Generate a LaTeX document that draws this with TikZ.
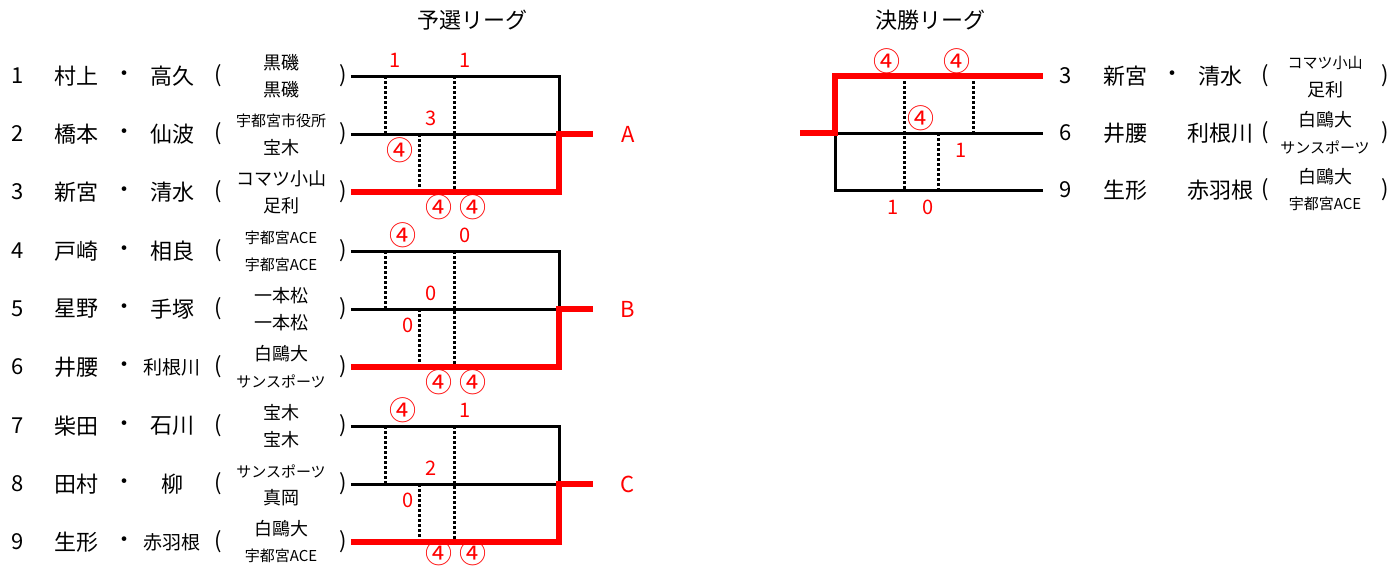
\documentclass[tikz,border=0pt]{standalone}
\usepackage{fontspec}
\setmainfont{Noto Sans CJK JP}
\usetikzlibrary{positioning}
\tikzset{sheet/.style={
  x=1pt,y=-1pt,line join=miter
},
  pname/.style={font=\fontsize{22}{22}\selectfont,inner sep=0pt},
  club/.style={font=\fontsize{18}{18}\selectfont,inner sep=0pt},
  paren/.style={pname,inner xsep=4pt},
  score/.style={red,font=\fontsize{20}{20}\selectfont,inner sep=0pt},
  lose/.style={line width=3pt},
  win/.style={red,line width=5.5pt},
  game/.style={line width=3pt,dash pattern=on 3pt off 2pt}
}
\newcommand\clubsm{\fontsize{15}{15}\selectfont}
\newcommand\namesm{\fontsize{19}{19}\selectfont}
\newcommand\four{{\fontsize{27}{27}\selectfont ④}}

\begin{document}
\begin{tikzpicture}[sheet]
  \useasboundingbox (0,0) rectangle (1393,566);
  \node[pname] (pre) at (472,20) {予選リーグ};
  \node[pname] (fin) at (930,20) {決勝リーグ};
  \foreach \n/\y/\fa/\fb/\ca/\cb in {
    1/76/村上/高久/黒磯/黒磯,
    2/134/橋本/仙波/\clubsm 宇都宮市役所/宝木,
    3/192/新宮/清水/コマツ小山/足利,
    4/251/戸崎/相良/\clubsm 宇都宮ACE/\clubsm 宇都宮ACE,
    5/309/星野/手塚/一本松/一本松,
    6/367/井腰/\namesm 利根川/白鷗大/\clubsm サンスポーツ,
    7/426/柴田/石川/宝木/宝木,
    8/484/田村/柳/\clubsm サンスポーツ/真岡,
    9/542/生形/\namesm 赤羽根/白鷗大/\clubsm 宇都宮ACE}{
    \node[pname] (no\n) at (18,\y) {\n};
    \node[pname] (fa\n) at (76,\y) {\fa};
    \node[pname] (dot\n) at (124,\y) {・};
    \node[pname] (fb\n) at (172,\y) {\fb};
    \node[paren] (op\n) at (218,\y) {(};
    \node[club] (ca\n) at (281,\y-13) {\ca};
    \node[club] (cb\n) at (281,\y+14) {\cb};
    \node[paren] (cl\n) at (343,\y) {)};
  }
  \foreach \g/\a/\b/\c/\ya/\yb/\yc/\sa/\sb/\sc/\sd/\se/\sf in {
    A/1/2/3/76/134/192/1/1/3/\four/\four/\four,
    B/4/5/6/251/309/367/\four/0/0/0/\four/\four,
    C/7/8/9/426/484/542/\four/1/2/0/\four/\four}{
    \coordinate (\g1) at (559,\ya);
    \coordinate (\g2) at (559,\yb);
    \coordinate (\g3) at (559,\yc);
    \coordinate (\g o) at (593,\yb);
    \draw[game] (385,\ya) -- (385,\yb);
    \draw[game] (419,\yb) -- (419,\yc);
    \draw[game] (454,\ya) -- (454,\yc);
    \draw[lose] (cl\a.east) -- (\g1) -- (\g2);
    \draw[lose] (cl\b.east) -- (\g2);
    \draw[win] (cl\c.east) -- (\g3) -- (\g2) -- (\g o);
    \node[pname,red] (grp\g) at (628,\yb) {\g};
    \node[score,anchor=west] (s\g a) at (389,\ya-16) {\sa};
    \node[score,anchor=west] (s\g b) at (459,\ya-16) {\sb};
    \node[score,anchor=west] (s\g c) at (425,\yb-16) {\sc};
    \node[score,anchor=east] (s\g d) at (414,\yb+16) {\sd};
    \node[score,anchor=west] (s\g e) at (425,{min(\yc+15,553)}) {\se};
    \node[score,anchor=west] (s\g f) at (459,{min(\yc+15,553)}) {\sf};
  }
  \foreach \n/\y/\fa/\dt/\fb/\ca/\cb in {
    3/76/新宮/・/清水/\clubsm コマツ小山/足利,
    6/133/井腰//利根川/白鷗大/\clubsm サンスポーツ,
    9/190/生形//赤羽根/白鷗大/\clubsm 宇都宮ACE}{
    \coordinate (e\n) at (1043,\y);
    \node[pname] (fno\n) at (1066,\y) {\n};
    \node[pname] (ffa\n) at (1125,\y) {\fa};
    \node[pname] (fdt\n) at (1172,\y) {\dt};
    \node[pname] (ffb\n) at (1220,\y) {\fb};
    \node[paren] (fop\n) at (1265,\y) {(};
    \node[club] (fca\n) at (1325,\y-13) {\ca};
    \node[club] (fcb\n) at (1325,\y+14) {\cb};
    \node[paren] (fcl\n) at (1385,\y) {)};
  }
  \coordinate (fr) at (800,133);
  \coordinate (fk) at (835,133);
  \coordinate (ft) at (835,76);
  \coordinate (fm) at (835,190);
  \draw[game] (904,76) -- (904,190);
  \draw[game] (973,76) -- (973,133);
  \draw[game] (938,133) -- (938,190);
  \draw[lose] (fk) -- (e6);
  \draw[lose] (fk) -- (fm) -- (e9);
  \draw[win] (fr) -- (fk) -- (ft) -- (e3);
  \node[score] (fs1) at (887,61) {\four};
  \node[score] (fs2) at (957,61) {\four};
  \node[score] (fs3) at (921,118) {\four};
  \node[score] (fs4) at (961,150) {1};
  \node[score] (fs5) at (893,207) {1};
  \node[score] (fs6) at (928,207) {0};
\end{tikzpicture}
\end{document}
